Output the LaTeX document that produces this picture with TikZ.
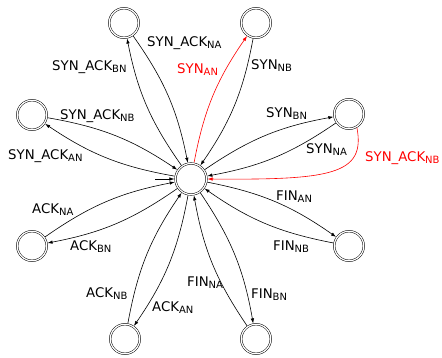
\documentclass[tikz,border=0pt]{standalone}
\usepackage{fontspec}
\setmainfont{DejaVu Sans}
\usetikzlibrary{arrows.meta}
\newcommand\sbs[1]{\raisebox{-2pt}{\fontsize{10}{10}\selectfont #1}}
\begin{document}
\begin{tikzpicture}[x=1pt,y=1pt,
  state/.style={circle, draw, line width=0.5pt, double, double distance=1.2pt,
                minimum size=29.5pt, inner sep=0pt, outer sep=1.1pt},
  hub/.style={state, minimum size=31pt},
  lbl/.style={inner sep=0pt, anchor=west, font=\fontsize{13.3}{15}\selectfont},
  link/.style={line width=0.6pt, -{Latex[length=5pt,width=3.5pt]}},
  curved/.style={link, bend left=12}]
\useasboundingbox (0,0) rectangle (442,357);

% states
\node[hub]   (C)  at (191,178) {};
\node[state] (TL) at (124,334) {};
\node[state] (TR) at (256,334) {};
\node[state] (R)  at (349,243) {};
\node[state] (RL) at (349,111) {};
\node[state] (BR) at (256,18)  {};
\node[state] (BL) at (125,18)  {};
\node[state] (LL) at (32,111)  {};
\node[state] (L)  at (32,242)  {};

% initial arrow
\coordinate (s) at (155,178);
\draw[link] (s) -- (C);

% transitions
\draw[curved] (C) to (TL);
\draw[curved] (TL) to (C);
\draw[curved, red] (C) to (TR);
\draw[curved] (TR) to (C);
\draw[curved] (C) to (R);
\draw[curved] (R) to (C);
\draw[curved] (C) to (RL);
\draw[curved] (RL) to (C);
\draw[curved] (C) to (BR);
\draw[curved] (BR) to (C);
\draw[curved] (C) to (BL);
\draw[curved] (BL) to (C);
\draw[curved] (C) to (LL);
\draw[curved] (LL) to (C);
\draw[curved] (C) to (L);
\draw[curved] (L) to (C);
\draw[link, red] (R.-60) .. controls +(9,-47) and +(123,-1) .. (C.east);

% labels
\node[lbl] (a1) at (52,290)  {SYN\_ACK\sbs{BN}};
\node[lbl] (a2) at (147,314) {SYN\_ACK\sbs{NA}};
\node[lbl, text=red] (a3) at (177,287) {SYN\sbs{AN}};
\node[lbl] (a4) at (251,291) {SYN\sbs{NB}};
\node[lbl] (a5) at (266,243) {SYN\sbs{BN}};
\node[lbl] (a6) at (306,207) {SYN\sbs{NA}};
\node[lbl, text=red] (a7) at (365,199) {SYN\_ACK\sbs{NB}};
\node[lbl] (a8) at (60,241)  {SYN\_ACK\sbs{NB}};
\node[lbl] (a9) at (8,201)   {SYN\_ACK\sbs{AN}};
\node[lbl] (b1) at (32,147)  {ACK\sbs{NA}};
\node[lbl] (b2) at (70,110)  {ACK\sbs{BN}};
\node[lbl] (b3) at (86,63)   {ACK\sbs{NB}};
\node[lbl] (b4) at (152,49)  {ACK\sbs{AN}};
\node[lbl] (b5) at (187,74)  {FIN\sbs{NA}};
\node[lbl] (b6) at (251,62)  {FIN\sbs{BN}};
\node[lbl] (b7) at (276,160) {FIN\sbs{AN}};
\node[lbl] (b8) at (273,110) {FIN\sbs{NB}};
\end{tikzpicture}
\end{document}
